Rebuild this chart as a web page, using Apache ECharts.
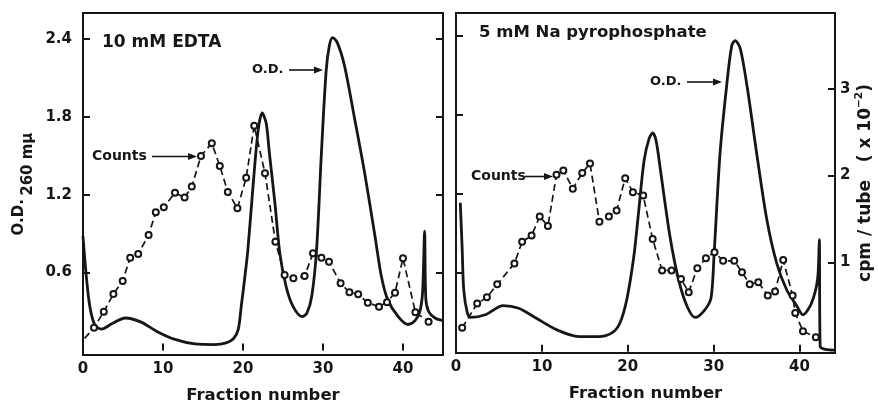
<!DOCTYPE html>
<html lang="en">
<head>
    <meta charset="utf-8">
    <title>Fraction profiles: EDTA vs Na pyrophosphate</title>
    <script src="https://cdn.jsdelivr.net/npm/echarts@6.0.0/dist/echarts.min.js"></script>
    <style type="text/css">
        html, body { margin: 0; padding: 0; background: #fff; }
        #main { width: 878px; height: 407px; }
    </style>
</head>
<body>
    <div id="main"></div>
    <script type="text/javascript">
        // ---- data ----
        // fraction number, O.D. 260 (left panel, 10 mM EDTA)
        var edtaOD = [
            [0, 0.88], [0.4, 0.58], [0.85, 0.34], [1.45, 0.2], [2.3, 0.165], [3.6, 0.205],
            [5.3, 0.25], [7.2, 0.22], [9.3, 0.145], [11.5, 0.085], [14.0, 0.05], [16.4, 0.045],
            [17.9, 0.058], [18.8, 0.09], [19.4, 0.16], [19.8, 0.35], [20.2, 0.55], [20.6, 0.77],
            [21.3, 1.3], [21.9, 1.7], [22.4, 1.83], [22.9, 1.75], [23.3, 1.52], [24.0, 1.13],
            [24.6, 0.75], [25.4, 0.49], [26.25, 0.34], [27.4, 0.26], [28.0, 0.29], [28.6, 0.42],
            [29.2, 0.78], [29.8, 1.52], [30.4, 2.16], [30.8, 2.35], [31.2, 2.41], [31.8, 2.37],
            [32.7, 2.19], [34.0, 1.77], [35.2, 1.37], [36.5, 0.88], [37.3, 0.57], [38.1, 0.39],
            [39.4, 0.26], [40.6, 0.2], [41.5, 0.23], [42.1, 0.3], [42.45, 0.45], [42.7, 0.92],
            [42.85, 0.4], [43.2, 0.3], [44.0, 0.25], [45, 0.23]
        ];
        // fraction number, cpm/tube x10^-2 (left panel)
        var edtaCounts = [
            [0.2, 0.11], [1.375, 0.233], [2.6, 0.416], [3.8, 0.619], [4.96, 0.768], [5.9, 1.036],
            [6.9, 1.078], [8.2, 1.296], [9.1, 1.556], [10.1, 1.614], [11.5, 1.781], [12.7, 1.724],
            [13.6, 1.85], [14.75, 2.202], [16.1, 2.347], [17.1, 2.087], [18.1, 1.789], [19.3, 1.602],
            [20.4, 1.953], [21.4, 2.549], [22.75, 2.003], [24.05, 1.219], [25.2, 0.837], [26.3, 0.799],
            [27.7, 0.826], [28.75, 1.086], [29.8, 1.036], [30.75, 0.99], [32.2, 0.742], [33.3, 0.639],
            [34.4, 0.616], [35.6, 0.519], [37.0, 0.474], [38.0, 0.524], [39.0, 0.634], [40.0, 1.029],
            [41.55, 0.409], [43.2, 0.302]
        ];
        // right panel, 5 mM Na pyrophosphate
        var pyroOD = [
            [0.5, 1.13], [0.72, 0.78], [0.9, 0.47], [1.3, 0.3], [1.7, 0.26], [3.4, 0.28],
            [5.5, 0.35], [7.3, 0.33], [9.2, 0.26], [11.6, 0.17], [14.3, 0.115], [16.6, 0.115],
            [18.2, 0.145], [19.1, 0.22], [19.9, 0.4], [20.7, 0.72], [21.2, 1.02], [21.9, 1.45],
            [22.5, 1.62], [22.9, 1.66], [23.3, 1.6], [23.8, 1.38], [24.9, 0.88], [25.9, 0.55],
            [26.9, 0.345], [27.85, 0.26], [29.0, 0.32], [29.7, 0.41], [30.06, 0.75], [30.75, 1.51],
            [31.5, 2.01], [32.1, 2.32], [32.5, 2.36], [33.1, 2.3], [33.9, 2.01], [35.0, 1.51],
            [36.2, 1.0], [37.35, 0.67], [38.5, 0.47], [39.7, 0.345], [40.4, 0.28], [41.4, 0.37],
            [42.1, 0.55], [42.3, 0.85], [42.4, 0.04], [43.0, 0.017], [44.1, 0.012]
        ];
        var pyroCounts = [
            [0.72, 0.25], [2.47, 0.53], [3.6, 0.6], [4.8, 0.75], [6.8, 0.99], [7.7, 1.24],
            [8.8, 1.31], [9.75, 1.53], [10.7, 1.42], [11.7, 2.01], [12.5, 2.06], [13.6, 1.85],
            [14.7, 2.03], [15.6, 2.14], [16.7, 1.47], [17.8, 1.53], [18.7, 1.6], [19.7, 1.97],
            [20.6, 1.81], [21.8, 1.77], [22.9, 1.27], [24.0, 0.91], [25.1, 0.91], [26.2, 0.81],
            [27.1, 0.66], [28.1, 0.935], [29.1, 1.05], [30.1, 1.12], [31.1, 1.02], [32.4, 1.02],
            [33.3, 0.89], [34.2, 0.75], [35.2, 0.775], [36.3, 0.62], [37.15, 0.667], [38.1, 1.03],
            [39.2, 0.62], [39.5, 0.42], [40.4, 0.21], [41.9, 0.14]
        ];
        var fractionTicks = [0, 10, 20, 30, 40];
        var odTicks = [0.6, 1.2, 1.8, 2.4];
        var cpmTicks = [1, 2, 3];

        var INK = '#161616';
        var FONT = '"DejaVu Sans", "Liberation Sans", sans-serif';

        function xAxisFor(grid, max) {
            return {
                type: 'value', gridIndex: grid, min: 0, max: max,
                name: 'Fraction number', nameLocation: 'middle', nameGap: 32,
                nameTextStyle: { color: INK, fontFamily: FONT, fontWeight: 'bold', fontSize: 16.5 },
                axisLine: { show: false },
                axisTick: { show: true, inside: true, length: 7, customValues: fractionTicks,
                    lineStyle: { color: INK, width: 2 } },
                axisLabel: { customValues: fractionTicks, margin: 7, color: INK,
                    fontFamily: FONT, fontWeight: 'bold', fontSize: 15 },
                splitLine: { show: false }
            };
        }
        function tickAxis(grid, pos, min, max, ticks, labels) {
            return {
                type: 'value', gridIndex: grid, position: pos, min: min, max: max,
                axisLine: { show: false },
                axisTick: { show: true, inside: true, length: 7, customValues: ticks,
                    lineStyle: { color: INK, width: 2 } },
                axisLabel: { show: labels, customValues: ticks, margin: pos === 'left' ? 11 : 5,
                    color: INK, fontFamily: FONT, fontWeight: 'bold', fontSize: 15 },
                splitLine: { show: false }
            };
        }

        // "260 mμ" sits a little lower than "O.D." (subscript-like)
        var yOdLeft = tickAxis(0, 'left', -0.035, 2.60, odTicks, true);
        yOdLeft.name = '{a|O.D.} {b|260 mμ}';
        yOdLeft.nameLocation = 'middle';
        yOdLeft.nameGap = 47;
        yOdLeft.nameRotate = 90;
        yOdLeft.nameMoveOverlap = false;
        yOdLeft.nameTextStyle = {
            color: INK,
            rich: {
                a: { fontFamily: FONT, fontWeight: 'bold', fontSize: 15, color: INK, lineHeight: 15, verticalAlign: 'top' },
                b: { fontFamily: FONT, fontWeight: 'bold', fontSize: 15, color: INK, lineHeight: 24, verticalAlign: 'bottom' }
            }
        };

        var yCpmRight = tickAxis(1, 'right', -0.04, 3.87, cpmTicks, true);
        yCpmRight.name = '{a|cpm / tube   ( x 10}{s|−2}{a|)}';
        yCpmRight.nameLocation = 'middle';
        yCpmRight.nameGap = 19;
        yCpmRight.nameRotate = 90;
        yCpmRight.nameMoveOverlap = false;
        yCpmRight.nameTextStyle = {
            color: INK,
            rich: {
                a: { fontFamily: FONT, fontWeight: 'bold', fontSize: 17, color: INK, lineHeight: 20, verticalAlign: 'bottom' },
                s: { fontFamily: FONT, fontWeight: 'bold', fontSize: 10.5, color: INK, lineHeight: 10, verticalAlign: 'top' }
            }
        };

        var yCpmHidden = {
            type: 'value', gridIndex: 0, position: 'right', min: -0.08, max: 3.84, show: false
        };

        function odSeries(xi, yi, data) {
            return {
                type: 'line', xAxisIndex: xi, yAxisIndex: yi, data: data,
                smooth: 0.3, symbol: 'none', silent: true,
                lineStyle: { color: INK, width: 2.8 }
            };
        }
        function countSeries(xi, yi, data, hideFirst) {
            return {
                type: 'line', xAxisIndex: xi, yAxisIndex: yi,
                data: data.map(function (d, i) {
                    return (hideFirst && i === 0) ? { value: d, symbol: 'none' } : d;
                }),
                symbol: 'emptyCircle', symbolSize: 6, silent: true,
                itemStyle: { color: INK, borderColor: INK, borderWidth: 1.5 },
                lineStyle: { color: INK, width: 1.7, type: [7, 4] }
            };
        }

        function label(x, y, text, size) {
            return {
                type: 'text', x: x, y: y, silent: true,
                style: { text: text, fill: INK, font: 'bold ' + size + 'px ' + FONT,
                    align: 'left', verticalAlign: 'middle', textAlign: 'left', textVerticalAlign: 'middle' }
            };
        }
        function arrow(x1, x2, y) {
            return {
                type: 'group', silent: true,
                children: [
                    { type: 'line', shape: { x1: x1, y1: y, x2: x2 - 6, y2: y }, style: { stroke: INK, lineWidth: 1.6 } },
                    { type: 'polygon', shape: { points: [[x2, y], [x2 - 9, y - 3.5], [x2 - 9, y + 3.5]] }, style: { fill: INK } }
                ]
            };
        }

        var chart = echarts.init(document.getElementById('main'), null, { renderer: 'canvas' });
        var option = {
            backgroundColor: '#fff',
            animation: false,
            grid: [
                { left: 83, right: 435, top: 13, bottom: 52, show: true, borderColor: INK, borderWidth: 2,
                  backgroundColor: 'transparent', outerBoundsMode: 'none' },
                { left: 456, right: 43, top: 13, bottom: 54, show: true, borderColor: INK, borderWidth: 2,
                  backgroundColor: 'transparent', outerBoundsMode: 'none' }
            ],
            xAxis: [xAxisFor(0, 45), xAxisFor(1, 44.13)],
            yAxis: [
                yOdLeft,
                tickAxis(0, 'right', -0.035, 2.60, odTicks, false),
                yCpmHidden,
                tickAxis(1, 'left', -0.01, 2.57, odTicks, false),
                yCpmRight
            ],
            series: [
                odSeries(0, 0, edtaOD),
                countSeries(0, 2, edtaCounts, true),
                odSeries(1, 3, pyroOD),
                countSeries(1, 4, pyroCounts, false)
            ],
            graphic: [
                label(102, 43, '10 mM EDTA', 17),
                label(252, 70, 'O.D.', 13),
                arrow(289, 323, 70),
                label(92, 156.5, 'Counts', 14),
                arrow(152, 197, 156.5),
                label(479, 33, '5 mM Na pyrophosphate', 16.5),
                label(650, 82, 'O.D.', 13),
                arrow(687, 722, 82),
                label(471, 176.5, 'Counts', 14),
                arrow(525, 553, 176.5)
            ]
        };
        chart.setOption(option);
    </script>
</body>
</html>
